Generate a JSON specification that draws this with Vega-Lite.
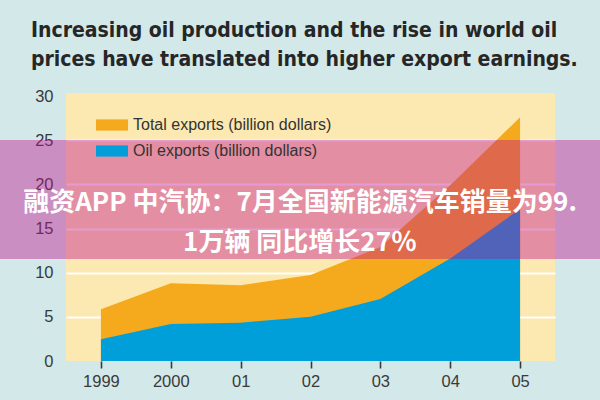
{
  "$schema": "https://vega.github.io/schema/vega-lite/v6.json",
  "autosize": "none",
  "width": 489,
  "height": 268,
  "padding": {"left": 66, "top": 93, "right": 45, "bottom": 39},
  "background": "#d3e8e9",
  "view": {"fill": "#fbe9b1", "stroke": null},
  "title": {
    "text": ["Increasing oil production and the rise in world oil", "prices have translated into higher export earnings."],
    "anchor": "start",
    "frame": "group",
    "dx": -35,
    "font": "DejaVu Sans Condensed",
    "fontSize": 21,
    "fontWeight": "bold",
    "color": "#262626",
    "lineHeight": 29,
    "offset": 18
  },
  "datasets": {
    "exports": [
      {"year": 1999, "series": "Total exports (billion dollars)", "value": 5.85},
      {"year": 2000, "series": "Total exports (billion dollars)", "value": 8.8},
      {"year": 2001, "series": "Total exports (billion dollars)", "value": 8.57},
      {"year": 2002, "series": "Total exports (billion dollars)", "value": 9.74},
      {"year": 2003, "series": "Total exports (billion dollars)", "value": 12.9},
      {"year": 2004, "series": "Total exports (billion dollars)", "value": 19.9},
      {"year": 2005, "series": "Total exports (billion dollars)", "value": 27.6},
      {"year": 1999, "series": "Oil exports (billion dollars)", "value": 2.45},
      {"year": 2000, "series": "Oil exports (billion dollars)", "value": 4.19},
      {"year": 2001, "series": "Oil exports (billion dollars)", "value": 4.34},
      {"year": 2002, "series": "Oil exports (billion dollars)", "value": 5.02},
      {"year": 2003, "series": "Oil exports (billion dollars)", "value": 7.02},
      {"year": 2004, "series": "Oil exports (billion dollars)", "value": 11.6},
      {"year": 2005, "series": "Oil exports (billion dollars)", "value": 17.2}
    ],
    "banner": [
      {"text": "融资APP 中汽协：7月全国新能源汽车销量为99.\n1万辆 同比增长27％"}
    ]
  },
  "layer": [
    {
      "data": {"name": "exports"},
      "transform": [{"filter": "datum.series === 'Total exports (billion dollars)'"}],
      "mark": {"type": "area", "interpolate": "linear"},
      "encoding": {
        "x": {
          "field": "year", "type": "quantitative",
          "scale": {"domain": [1998.5, 2005.5], "nice": false, "zero": false},
          "axis": {
            "title": null, "grid": false, "domain": false,
            "values": [1999, 2000, 2001, 2002, 2003, 2004, 2005],
            "labelExpr": "datum.value < 2001 ? '' + datum.value : '0' + (datum.value - 2000)",
            "tickSize": 7, "tickWidth": 1.6, "tickColor": "#3a3a3a",
            "labelFont": "Liberation Sans", "labelFontSize": 16.5, "labelColor": "#3a3a3a",
            "labelPadding": 5
          }
        },
        "y": {
          "field": "value", "type": "quantitative",
          "scale": {"domain": [0, 30.34], "nice": false},
          "axis": {
            "title": null, "domain": false, "ticks": false,
            "values": [0, 5, 10, 15, 20, 25, 30],
            "grid": true, "gridColor": "#ffffff", "gridWidth": 2.2,
            "gridOpacity": {"condition": {"test": "datum.value === 0 || datum.value === 30", "value": 0}, "value": 1},
            "labelFont": "Liberation Sans", "labelFontSize": 16.5, "labelColor": "#3a3a3a",
            "labelPadding": 13
          }
        },
        "color": {
          "field": "series", "type": "nominal",
          "scale": {"domain": ["Total exports (billion dollars)", "Oil exports (billion dollars)"], "range": ["#f5a91d", "#009fd9"]},
          "legend": {
            "title": null,
            "orient": "none",
            "legendX": 38,
            "legendY": 24,
            "padding": 0,
            "symbolType": "M-2,-0.7L2,-0.7L2,0.7L-2,0.7Z",
            "symbolSize": 256,
            "symbolStrokeWidth": 0,
            "symbolOpacity": 1,
            "labelOffset": 13,
            "rowPadding": 10,
            "labelFont": "Liberation Sans",
            "labelFontSize": 16,
            "labelColor": "#333333",
            "labelLimit": 400
          }
        }
      }
    },
    {
      "data": {"name": "exports"},
      "transform": [{"filter": "datum.series === 'Oil exports (billion dollars)'"}],
      "mark": {"type": "area", "interpolate": "linear"},
      "encoding": {
        "x": {"field": "year", "type": "quantitative"},
        "y": {"field": "value", "type": "quantitative"},
        "color": {"field": "series", "type": "nominal"}
      }
    },
    {
      "data": {"name": "banner"},
      "mark": {"type": "rect", "color": "#c0108c", "opacity": 0.42, "clip": false},
      "encoding": {
        "x": {"datum": 1997.5, "type": "quantitative"},
        "x2": {"datum": 2006.2},
        "y": {"datum": 11.55, "type": "quantitative"},
        "y2": {"datum": 25.02}
      }
    },
    {
      "data": {"name": "banner"},
      "mark": {"type": "text", "font": "Noto Sans CJK SC", "fontWeight": "bold", "fontSize": 26, "color": "#ffffff", "align": "center", "baseline": "middle", "lineBreak": "\n", "lineHeight": 40, "clip": false},
      "encoding": {
        "x": {"datum": 2001.85, "type": "quantitative"},
        "y": {"datum": 17.89, "type": "quantitative"},
        "text": {"field": "text"}
      }
    }
  ]
}
